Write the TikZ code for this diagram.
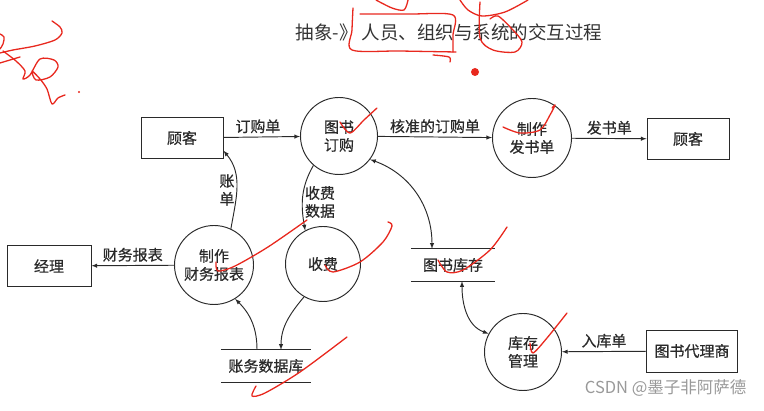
\documentclass[tikz,border=0pt]{standalone}
\usepackage{fontspec}
\setmainfont{Noto Sans CJK SC}
\newfontfamily\cjk{Noto Sans CJK SC}
\newfontfamily\cjkheavy[FakeBold=0.6]{Noto Sans CJK SC}
\usepackage{xcolor}
\usepackage{tikz}
\usetikzlibrary{calc, arrows}

\definecolor{inkgray}{HTML}{2A2A2A}
\definecolor{markred}{HTML}{E8281E}

\tikzset{
  dfd/.style = {line width = 0.95pt, draw = inkgray, text = inkgray},
  entity/.style = {dfd, rectangle, minimum width = 82pt, minimum height = 41pt,
    font = \cjkheavy\fontsize{15}{18}\selectfont},
  process/.style = {dfd, circle, minimum size = 77pt, inner sep = 0pt, align = center,
    font = \cjkheavy\fontsize{15}{18}\selectfont},
  store/.style = {minimum width = 90pt, minimum height = 32pt, text = inkgray,
    font = \cjkheavy\fontsize{15}{18}\selectfont},
  flow/.style = {dfd, -latex},
  flowlabel/.style = {text = inkgray, font = \cjkheavy\fontsize{15}{18}\selectfont},
  scribble/.style = {markred, line width = 1.3pt, line cap = round, line join = round}
}

\begin{document}
\begin{tikzpicture}[x = 1pt, y = -1pt]
  \useasboundingbox (0, 0) rectangle (764, 411);

  % title
  \node[text = black!80, font = \cjk\fontsize{18.5}{22}\selectfont] (title) at (449, 32)
  {抽象-》 人员、组织与系统的交互过程};

  % entities and processes
  \node[entity] (cust1) at (182, 138) {顾客};
  \node[process] (order) at (339, 136) {图书\\订购};
  \node[process, minimum size = 79pt] (ship) at (532, 138) {制作\\发书单};
  \node[entity] (cust2) at (688, 139) {顾客};
  \node[entity, minimum width = 84pt] (mgr) at (49, 266) {经理};
  \node[process, minimum size = 79pt] (report) at (214, 265) {制作\\财务报表};
  \node[process, minimum size = 75pt] (fee) at (323, 264) {收费};
  \node[process] (inv) at (523, 352) {库存\\管理};
  \node[entity, minimum width = 91pt, minimum height = 42pt] (agent) at (692, 351) {图书代理商};

  % data stores
  \node[store] (acct) at (266, 366) {账务数据库};
  \node[store, minimum width = 84pt] (stock) at (453, 265) {图书库存};
  \foreach \s in {acct, stock} {
    \draw[dfd] (\s.north west) -- (\s.north east);
    \draw[dfd] (\s.south west) -- (\s.south east);
  }

  % data flows
  \draw[flow] (cust1) -- (order) node[flowlabel, pos = .45, above] {订购单};
  \draw[flow] (order) -- (ship) node[flowlabel, pos = .5, above] {核准的订购单};
  \draw[flow] (ship) -- (cust2) node[flowlabel, pos = .5, above] {发书单};
  \draw[flow] (report) -- (mgr) node[flowlabel, pos = .5, above] {财务报表};
  \draw[flow] (agent) -- (inv) node[flowlabel, pos = .5, above] {入库单};

  \draw[flow] (report.65) to[out = 80, in = -50] (cust1.-17);
  \node[flowlabel, align = center] (billlbl) at (227, 190) {账\\单};
  \draw[flow] (order.-131) to[out = -120, in = 100] (fee.118);
  \node[flowlabel, align = center] (feelbl) at (320, 202) {收费\\数据};
  \draw[flow] ([xshift = -9pt]acct.north) to[out = 90, in = -45] (report.-58);
  \draw[flow] (fee.-120) to[out = -130, in = 90] ([xshift = 15pt]acct.north);
  \draw[dfd, latex-latex] (order.-37) to[out = -20, in = 90] ([xshift = -21pt]stock.north);
  \draw[dfd, latex-latex] ([xshift = 9pt]stock.south) to[out = -90, in = 160] (inv.152);

  % watermark
  \node[anchor = east, text = black!40, font = \cjk\fontsize{16.5}{20}\selectfont] (mark) at (750, 388)
  {CSDN @墨子非阿萨德};

  % red pen marks
  \draw[scribble] plot[smooth] coordinates {(52,21) (60,27) (62,33) (55,40) (35,46) (13,50) (0,53)};
  \draw[scribble] plot[smooth] coordinates {(0,34) (4,37) (3,44) (0,49)};
  \draw[scribble] (20,57) -- (0,63);
  \draw[scribble] plot[smooth] coordinates {(3,51) (16,61) (25,71) (23,79) (30,75) (40,59) (54,60) (58,67)
    (50,77) (36,80) (32,71) (40,79) (47,89) (52,104) (58,98) (65,95)};
  \fill[markred] (79,92) circle (1.2);
  \draw[scribble] plot[smooth] coordinates {(353,8) (352,30) (352,50) (400,51) (456,52)};
  \draw[scribble] plot[smooth] coordinates {(360,14) (410,14) (453,15) (453,35) (453,52)};
  \draw[scribble] plot[smooth] coordinates {(433,55) (449,57) (450,62)};
  \draw[scribble] plot[smooth] coordinates {(376,0) (392,8) (404,10) (408,0)};
  \draw[scribble] plot[smooth] coordinates {(460,0) (468,10) (482,16) (505,12) (528,0)};
  \draw[scribble] plot[smooth] coordinates {(480,2) (480,38) (493,50) (515,52) (522,42) (512,29) (498,16) (490,19)};
  \fill[markred] (475,72) circle (4);
  \draw[scribble] plot[smooth] coordinates {(340,122) (350,133) (364,120) (377,108)};
  \draw[scribble] plot[smooth] coordinates {(503,127) (520,133) (540,130) (550,115) (555,105) (552,108)};
  \draw[scribble] plot[smooth] coordinates {(216,262) (218,271) (235,266) (268,247) (307,220)};
  \draw[scribble] plot[smooth] coordinates {(325,265) (333,272) (360,262) (383,242) (392,226) (388,222)};
  \draw[scribble] plot[smooth] coordinates {(347,337) (300,372) (265,393) (252,396) (256,386)};
  \draw[scribble] plot[smooth] coordinates {(438,260) (447,272) (463,270) (490,250) (507,227)};
  \draw[scribble] plot[smooth] coordinates {(530,343) (533,353) (547,338) (567,313)};
\end{tikzpicture}
\end{document}
